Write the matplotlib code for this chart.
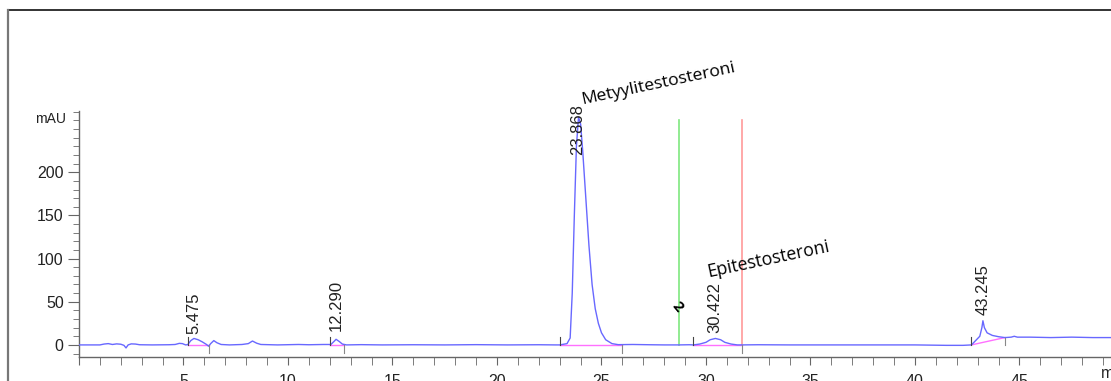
import numpy as np
import matplotlib.pyplot as plt
from matplotlib.lines import Line2D
from matplotlib.ticker import MultipleLocator

# detector trace (min, mAU)
trace_time = [0.0, 1.0, 1.2, 1.4, 1.6, 1.8, 2.0, 2.15, 2.25, 2.35, 2.5, 2.7, 2.9, 3.5,
              4.3, 4.6, 4.8, 4.95, 5.1, 5.2, 5.35, 5.5, 5.7, 5.9, 6.1, 6.2, 6.3, 6.45,
              6.6, 6.8, 7.2, 7.8, 8.1, 8.3, 8.5, 8.7, 9.5, 10.5, 11.0, 11.7, 11.95,
              12.05, 12.2, 12.3, 12.45, 12.6, 12.8, 13.5, 14.5, 16.0, 17.5, 19.0, 20.5,
              22.0, 22.8, 23.0, 23.35, 23.5, 23.6, 23.7, 23.8, 23.9, 24.0, 24.1,
              24.25, 24.4, 24.55, 24.7, 24.85, 25.0, 25.2, 25.5, 25.8, 26.5, 27.3, 28.0,
              28.7, 29.2, 29.4, 29.7, 30.0, 30.2, 30.45, 30.7, 30.9, 31.2, 31.5, 31.7,
              32.5, 34.0, 36.0, 38.0, 40.0, 41.5, 42.3, 42.7, 42.9, 43.1, 43.2, 43.25,
              43.32, 43.45, 43.7, 44.0, 44.3, 44.6, 44.75, 44.9, 45.5, 46.5, 47.5, 48.5,
              50.0]
trace_mau = [0.0, 0.0, 1.0, 1.5, 0.5, 1.2, 0.8, -0.5, -3.5, 0.0, 1.2, 1.0, 0.2, 0.0,
             0.2, 0.5, 1.8, 1.5, 0.0, 0.3, 5.0, 7.5, 6.0, 3.5, 0.5, -1.5, 1.5, 5.0,
             2.5, 0.5, 0.0, 0.5, 1.5, 4.5, 2.0, 0.5, 0.0, 0.5, 0.2, 0.5, 0.5,
             0.5, 4.0, 6.5, 4.0, 1.0, 0.0, 0.3, 0.0, 0.2, 0.0, 0.3, 0.0,
             0.2, 0.0, 0.0, 1.5, 8.0, 60.0, 150.0, 230.0, 264.0, 256.0, 225.0,
             170.0, 115.0, 70.0, 42.0, 25.0, 14.0, 6.0, 1.5, 0.3, 0.5, 0.2, 0.0,
             0.0, 0.2, 0.0, 1.0, 3.0, 6.0, 7.5, 6.0, 3.0, 1.0, 0.0, 0.0,
             0.2, 0.0, 0.0, 0.0, 0.0, -0.5, -0.5, 0.0, 5.0, 10.0, 20.0, 28.0,
             20.0, 14.0, 11.0, 9.5, 8.5, 9.0, 10.0, 9.0, 9.0, 8.5, 9.0, 8.5,
             8.5]

# integrated peaks
peak_rt = [5.475, 12.290, 23.868, 30.422, 43.245]
peak_labels = ["5.475", "12.290", "23.868", "30.422", "43.245"]
base_start = [5.2, 12.0, 23.0, 29.4, 42.7]
base_end = [6.2, 12.7, 26.0, 31.7, 44.3]
base_start_mau = [0.0, 0.0, 0.0, 0.0, 0.0]
base_end_mau = [0.0, 0.0, 0.0, 0.0, 8.5]

# retention time window markers
window_green = 28.7
window_red = 31.7

fig = plt.figure(figsize=(11.11, 3.81), dpi=100)
ax = fig.add_axes([79 / 1111, 24 / 381, 1045 / 1111, 246 / 381])

ax.plot(trace_time, trace_mau, color='#6868ff', lw=1.0, zorder=3)
for x0, x1, y0, y1 in zip(base_start, base_end, base_start_mau, base_end_mau):
    ax.plot([x0, x1], [y0, y1], color='#ff70ff', lw=1.0, zorder=2)
    ax.plot([x0, x0], [y0, y0 + 9], color='#444444', lw=0.8, zorder=4)
    ax.plot([x1, x1], [y1, y1 - 9], color='#888888', lw=0.8, zorder=4)

ax.plot([window_green, window_green], [0, 260], color='#7fe87f', lw=1.2, zorder=1)
ax.plot([window_red, window_red], [0, 260], color='#ff9a9a', lw=1.2, zorder=1)

# peak labels
label_offset = [6, 10, -33, 7, 8]
for rt, txt, off in zip(peak_rt, peak_labels, label_offset):
    h = np.interp(rt, trace_time, trace_mau)
    ax.text(rt, h + off, txt, rotation=90, ha='center', va='bottom',
            fontsize=12, family='Liberation Sans', color='#222222', zorder=5)

ax.text(24.1, 279, "Metyylitestosteroni", rotation=12, rotation_mode='anchor',
        ha='left', va='baseline', fontsize=12.6, family='Open Sans', clip_on=False)
ax.text(30.1, 79, "Epitestosteroni", rotation=12, rotation_mode='anchor',
        ha='left', va='baseline', fontsize=12.8, family='Open Sans')
ax.text(28.62, 44, "2", rotation=-50, ha='center', va='center',
        fontsize=11, fontweight='bold', family='Open Sans')

ax.set_xlim(0, 50)
ax.set_ylim(-14, 271)
ax.xaxis.set_major_locator(MultipleLocator(5))
ax.xaxis.set_minor_locator(MultipleLocator(1))
ax.set_yticks([0, 50, 100, 150, 200])
ax.set_yticks(np.arange(-10, 271, 10), minor=True)
for s in ['top', 'right']:
    ax.spines[s].set_visible(False)
for s in ['left', 'bottom']:
    ax.spines[s].set_color('#666666')
    ax.spines[s].set_linewidth(1.0)
ax.tick_params(axis='both', which='both', colors='#666666', labelcolor='#222222',
               labelsize=11.5, direction='out')
ax.tick_params(axis='y', which='major', length=8, pad=3)
ax.tick_params(axis='y', which='minor', length=4)
ax.tick_params(axis='x', which='both', length=6, pad=6)
for lab in ax.get_xticklabels() + ax.get_yticklabels():
    lab.set_family('Liberation Sans')
xt = ax.get_xticks()
ax.set_xticklabels([f"{v:g}" if 0 < v < 50 else "" for v in xt])
ax.text(48.9, -33, "min", ha='left', va='center', fontsize=11.5,
        family='Liberation Sans', color='#222222', clip_on=False)
ax.text(-0.6, 262, "mAU", ha='right', va='center', fontsize=10,
        family='Liberation Sans', color='#222222')

# outer frame, cut by the image edges
fig.add_artist(Line2D([8 / 1111, 1.0], [1 - 10 / 381, 1 - 10 / 381],
                      transform=fig.transFigure, color='#111111', lw=1.2))
fig.add_artist(Line2D([8 / 1111, 8 / 1111], [0, 1 - 10 / 381],
                      transform=fig.transFigure, color='#777777', lw=1.6))

fig.savefig('out.png', dpi=100)
